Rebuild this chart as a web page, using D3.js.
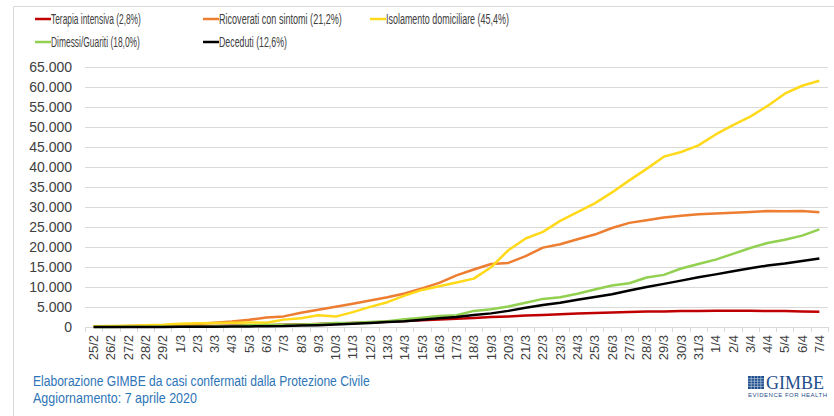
<!DOCTYPE html>
<html>
<head>
<meta charset="utf-8">
<script src="https://cdn.jsdelivr.net/npm/d3@7"></script>
<style>
  body { margin: 0; background: #fff; }
  svg { display: block; font-family: "Liberation Sans", Arial, sans-serif; }
</style>
</head>
<body>
<svg id="chart"></svg>
<script>
const dates = ["25/2","26/2","27/2","28/2","29/2",
  "1/3","2/3","3/3","4/3","5/3","6/3","7/3","8/3","9/3","10/3","11/3","12/3","13/3","14/3","15/3",
  "16/3","17/3","18/3","19/3","20/3","21/3","22/3","23/3","24/3","25/3","26/3","27/3","28/3","29/3",
  "30/3","31/3","1/4","2/4","3/4","4/4","5/4","6/4","7/4"];

const terapia = [35,36,56,64,105,140,166,229,295,351,462,567,650,733,877,1028,1153,1328,1518,1672,
  1851,2060,2257,2498,2655,2857,3009,3204,3396,3489,3612,3732,3856,3906,3981,4023,4035,4053,4068,3994,3977,3898,3792];
const ricoverati = [114,128,248,345,401,639,742,1034,1346,1790,2394,2651,3557,4316,5038,5838,6650,7426,8372,9663,
  11025,12894,14363,15757,16020,17708,19846,20692,21937,23112,24753,26029,26676,27386,27795,28192,28403,28540,28741,29010,28949,28976,28718];
const isolamento = [162,221,284,412,543,798,927,1000,1065,1155,1060,1843,2180,2936,2599,3724,5036,6201,7860,9268,
  10197,11108,12090,14935,19185,22116,23783,26522,28697,30920,33648,36653,39533,42588,43752,45420,48134,50456,52579,55270,58320,60313,61557];
const guariti = [1,3,45,46,50,83,149,160,276,414,523,589,622,724,1004,1045,1258,1439,1966,2335,
  2749,2941,4025,4440,5129,6072,7024,7432,8326,9362,10361,10950,12384,13030,14620,15729,16847,18278,19758,20996,21815,22837,24392];
const deceduti = [10,12,17,21,29,34,52,79,107,148,197,233,366,463,631,827,1016,1266,1441,1809,
  2158,2503,2978,3405,4032,4825,5476,6077,6820,7503,8165,9134,10023,10779,11591,12428,13155,13915,14681,15362,15887,16523,17127];

const seriesNames = ["Terapia intensiva (2,8%)","Ricoverati con sintomi (21,2%)","Isolamento domiciliare (45,4%)",
  "Dimessi/Guariti (18,0%)","Deceduti (12,6%)"];
const seriesColors = ["#c00000","#ed7d31","#ffd91a","#92d050","#000000"];
const seriesValues = [terapia, ricoverati, isolamento, guariti, deceduti];
const yTicks = d3.range(0, 65001, 5000);

const width = 834, height = 416;
const svg = d3.select("#chart").attr("width", width).attr("height", height);

// squeeze a text horizontally to a target width (the original uses Calibri)
function squeeze(sel, target) {
  sel.each(function (d, i) {
    const w = this.getComputedTextLength();
    const t = typeof target === "function" ? target(d, i) : target;
    const k = Math.min(1, t / w);
    const x0 = +this.getAttribute("x") || 0;
    const y0 = +this.getAttribute("y") || 0;
    d3.select(this).attr("transform", `translate(${x0},${y0}) scale(${k},1) translate(${-x0},${-y0})`);
  });
}

// chart area border (Excel frame)
svg.append("path")
  .attr("d", `M13.5,${height}V6.5H${width}`)
  .attr("fill", "none").attr("stroke", "#d9d9d9").attr("stroke-width", 1);

const plot = { left: 85, right: 828, top: 67, bottom: 327 };

const x = d3.scaleBand().domain(dates).range([plot.left, plot.right]);
const y = d3.scaleLinear().domain([0, 65000]).range([plot.bottom, plot.top]);

// gridlines
svg.append("g")
  .selectAll("line")
  .data(yTicks.filter(d => d > 0))
  .enter().append("line")
  .attr("x1", plot.left).attr("x2", plot.right)
  .attr("y1", d => Math.round(y(d)) + 0.5).attr("y2", d => Math.round(y(d)) + 0.5)
  .attr("stroke", "#d9d9d9").attr("stroke-width", 1);

// y axis labels
const fmt = d => d === 0 ? "0" : d3.format(",")(d).replace(/,/g, ".");
svg.append("g")
  .selectAll("text")
  .data(yTicks)
  .enter().append("text")
  .attr("x", 72).attr("y", d => y(d))
  .attr("dy", "0.35em")
  .attr("text-anchor", "end")
  .attr("font-size", "14px")
  .attr("fill", "#404040")
  .text(fmt);

// x axis line and ticks between categories
const xAxis = svg.append("g");
xAxis.append("line")
  .attr("x1", plot.left).attr("x2", plot.right)
  .attr("y1", plot.bottom + 0.5).attr("y2", plot.bottom + 0.5)
  .attr("stroke", "#d9d9d9");
xAxis.selectAll("line.tick")
  .data(dates.concat(["end"]))
  .enter().append("line")
  .attr("class", "tick")
  .attr("x1", (d, i) => Math.round(plot.left + i * x.step()) + 0.5)
  .attr("x2", (d, i) => Math.round(plot.left + i * x.step()) + 0.5)
  .attr("y1", plot.bottom).attr("y2", plot.bottom + 5)
  .attr("stroke", "#d9d9d9");
xAxis.selectAll("text")
  .data(dates)
  .enter().append("text")
  .attr("transform", d => `translate(${x(d) + x.bandwidth() / 2},335) rotate(-90)`)
  .attr("dy", "0.35em")
  .attr("text-anchor", "end")
  .attr("font-size", "13px")
  .attr("fill", "#404040")
  .text(d => d);

// lines
const line = d3.line()
  .x((d, i) => x(dates[i]) + x.bandwidth() / 2)
  .y(d => y(d));

svg.append("g")
  .selectAll("path")
  .data(seriesValues)
  .enter().append("path")
  .attr("d", line)
  .attr("fill", "none")
  .attr("stroke", (d, i) => seriesColors[i])
  .attr("stroke-width", 2.5)
  .attr("stroke-linejoin", "round");

// legend
const legendPos = [[35, 19], [203, 19], [370, 19], [35, 42], [203, 42]];
const legendTextLen = [90, 123, 123, 89, 68];
const legend = svg.append("g")
  .selectAll("g")
  .data(seriesNames)
  .enter().append("g")
  .attr("transform", (d, i) => `translate(${legendPos[i][0]},${legendPos[i][1]})`);
legend.append("line")
  .attr("x1", 0).attr("x2", 16)
  .attr("stroke", (d, i) => seriesColors[i])
  .attr("stroke-width", 2.5);
legend.append("text")
  .attr("x", 16).attr("dy", "0.35em")
  .attr("font-size", "14.5px")
  .attr("fill", "#404040")
  .text(d => d)
  .call(squeeze, (d, i) => legendTextLen[i]);

// footer
svg.append("text")
  .attr("x", 33).attr("y", 386)
  .attr("font-size", "14px").attr("fill", "#2e75b6")
  .text("Elaborazione GIMBE da casi confermati dalla Protezione Civile")
  .call(squeeze, 337);
svg.append("text")
  .attr("x", 33).attr("y", 403)
  .attr("font-size", "14px").attr("fill", "#2e75b6")
  .text("Aggiornamento: 7 aprile 2020")
  .call(squeeze, 164);

// logo
const logo = svg.append("g").attr("transform", "translate(748,376)");
logo.append("rect").attr("width", 16).attr("height", 13).attr("fill", "#1f4e8c");
logo.append("g").selectAll("path")
  .data(d3.range(1, 5))
  .enter().append("path")
  .attr("d", d => `M${d * 3.2},0V13M0,${d * 2.6}H16`)
  .attr("stroke", "#c9d6ea").attr("stroke-width", 0.6);
logo.append("text")
  .attr("x", 18).attr("y", 13)
  .attr("font-family", "Liberation Serif, serif")
  .attr("font-size", "18px")
  .attr("fill", "#1f4e8c")
  .text("GIMBE")
  .call(squeeze, 61);
logo.append("text")
  .attr("x", 0).attr("y", 21)
  .attr("font-size", "6px")
  .attr("fill", "#1f4e8c")
  .attr("textLength", 79).attr("lengthAdjust", "spacing")
  .text("EVIDENCE FOR HEALTH");
</script>
</body>
</html>
